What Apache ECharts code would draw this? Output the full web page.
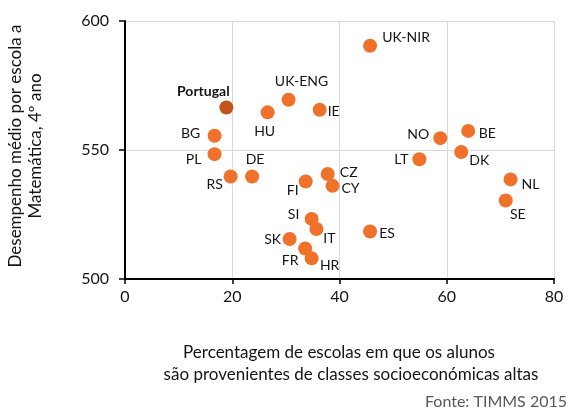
<!DOCTYPE html>
<html>
<head>
<meta charset="utf-8">
<script src="https://cdn.jsdelivr.net/npm/echarts@6/dist/echarts.min.js"></script>
<style>
  html, body { margin: 0; padding: 0; background: #fff; }
  #main { width: 572px; height: 412px; }
</style>
</head>
<body>
<div id="main"></div>
<script>
// paises e valores
var countries = ['Portugal', 'UK-ENG', 'HU', 'IE', 'UK-NIR', 'BG', 'PL', 'RS', 'DE', 'NO', 'BE', 'LT',
    'DK', 'NL', 'SE', 'FI', 'CZ', 'CY', 'SI', 'IT', 'SK', 'FR', 'HR', 'ES'];
var pctHigh = [18.9, 30.5, 26.6, 36.3, 45.7, 16.7, 16.7, 19.7, 23.7, 58.8, 64.0, 54.9,
    62.7, 71.9, 71.0, 33.7, 37.8, 38.7, 34.8, 35.7, 30.7, 33.6, 34.8, 45.7];
var score = [566.5, 569.5, 564.6, 565.6, 590.4, 555.5, 548.4, 539.7, 539.7, 554.6, 557.4, 546.4,
    549.2, 538.6, 530.4, 537.8, 540.7, 536.1, 523.3, 519.4, 515.5, 511.8, 508.0, 518.4];
var xTicks = [0, 20, 40, 60, 80];
var yTicks = [500, 550, 600];

// posicao das etiquetas (deslocamento em px a partir do centro do ponto)
var labelOffset = {
    'Portugal': [-23, -16], 'UK-ENG': [13, -18], 'HU': [-3, 19], 'IE': [14, 2],
    'UK-NIR': [36, -8], 'BG': [-24, -2], 'PL': [-21, 5], 'RS': [-16, 8], 'DE': [3, -17],
    'NO': [-22, -4], 'BE': [19, 3], 'LT': [-18, 0], 'DK': [18, 8], 'NL': [20, 5],
    'SE': [12, 14], 'FI': [-13, 9], 'CZ': [21, -2], 'CY': [18, 3], 'SI': [-18, -4],
    'IT': [13, 10], 'SK': [-17, 0], 'FR': [-15, 12], 'HR': [18, 7], 'ES': [17, 2]
};

var FONT = 'Lato, "Open Sans", sans-serif';
var TXT = '#141414';
var points = [];
for (var i = 0; i < countries.length; i++) {
    var isPt = countries[i] == 'Portugal';
    points.push({
        name: countries[i],
        value: [pctHigh[i], score[i]],
        itemStyle: { color: isPt ? '#BF5518' : '#F0712A', opacity: 1 },
        label: {
            offset: labelOffset[countries[i]],
            fontWeight: isPt ? 'bold' : 'normal'
        }
    });
}

var myChart = echarts.init(document.getElementById('main'), null, { renderer: 'canvas' });
var option = {
    animation: false,
    backgroundColor: '#fff',
    grid: { left: 125, right: 18, top: 21, bottom: 133 },
    xAxis: {
        type: 'value',
        min: xTicks[0],
        max: xTicks[xTicks.length - 1],
        interval: xTicks[1] - xTicks[0],
        axisLine: { show: true, onZero: false, lineStyle: { color: '#000', width: 2 } },
        axisTick: { show: true, length: 5, lineStyle: { color: '#000', width: 1.5 } },
        axisLabel: { color: TXT, fontSize: 16, fontFamily: FONT, margin: 10 },
        splitLine: { show: true, lineStyle: { color: '#D9D9D9', width: 1 } }
    },
    yAxis: {
        type: 'value',
        min: yTicks[0],
        max: yTicks[yTicks.length - 1],
        interval: yTicks[1] - yTicks[0],
        axisLine: { show: true, onZero: false, lineStyle: { color: '#000', width: 2 } },
        axisTick: { show: true, length: 6, lineStyle: { color: '#000', width: 1.5 } },
        axisLabel: { color: TXT, fontSize: 16, fontFamily: FONT, margin: 16 },
        splitLine: { show: true, lineStyle: { color: '#D9D9D9', width: 1 } }
    },
    series: [{
        type: 'scatter',
        symbolSize: 14,
        data: points,
        label: {
            show: true,
            position: 'inside',
            formatter: '{b}',
            color: TXT,
            fontSize: 14,
            fontFamily: FONT
        },
        emphasis: { disabled: true }
    }],
    graphic: [
        {
            type: 'text', x: 16, y: 146, rotation: Math.PI / 2,
            style: { text: 'Desempenho médio por escola a', fill: TXT, font: '17px ' + FONT,
                textAlign: 'center', textVerticalAlign: 'middle' }
        },
        {
            type: 'text', x: 36, y: 146, rotation: Math.PI / 2,
            style: { text: 'Matemática, 4º ano', fill: TXT, font: '17px ' + FONT,
                textAlign: 'center', textVerticalAlign: 'middle' }
        },
        {
            type: 'text', x: 339, y: 353,
            style: { text: 'Percentagem de escolas em que os alunos', fill: TXT, font: '17px ' + FONT,
                textAlign: 'center', textVerticalAlign: 'middle' }
        },
        {
            type: 'text', x: 351, y: 375,
            style: { text: 'são provenientes de classes socioeconómicas altas', fill: TXT, font: '17px ' + FONT,
                textAlign: 'center', textVerticalAlign: 'middle' }
        },
        {
            type: 'text', x: 567, y: 402,
            style: { text: 'Fonte: TIMMS 2015', fill: '#595959', font: '16px ' + FONT,
                textAlign: 'right', textVerticalAlign: 'middle' }
        }
    ]
};
myChart.setOption(option);
</script>
</body>
</html>
